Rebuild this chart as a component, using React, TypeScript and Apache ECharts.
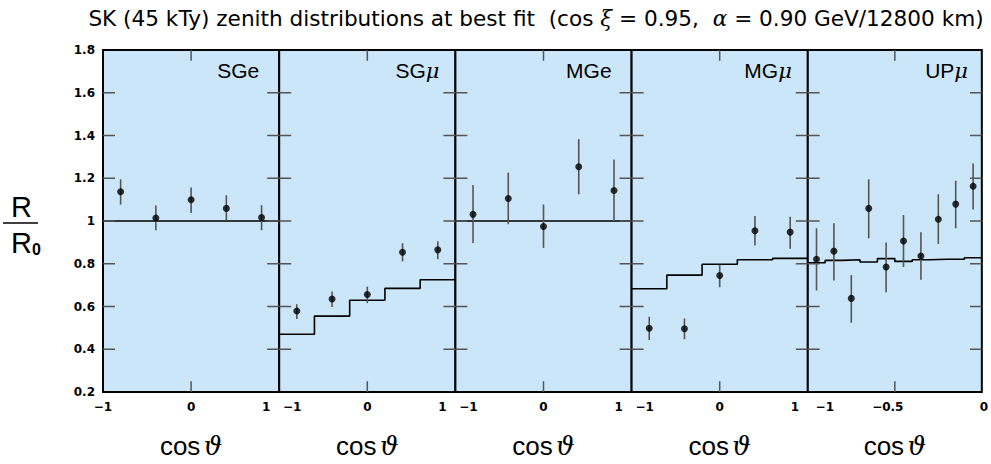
import React, { useEffect, useRef } from "react";
import * as echarts from "echarts";

// ---- data ----
const panelNames = ["SGe", "SGμ", "MGe", "MGμ", "UPμ"];
const xMins = [-1, -1, -1, -1, -1];
const xMaxs = [1, 1, 1, 1, 0];
const xIntervals = [1, 1, 1, 1, 0.5];
const xInnerTicks = [[0], [0], [0], [0], [-0.5]];

const binCenters5 = [-0.8, -0.4, 0, 0.4, 0.8];
const binEdges5 = [-1, -0.6, -0.2, 0.2, 0.6, 1];
const binCenters10 = [-0.95, -0.85, -0.75, -0.65, -0.55, -0.45, -0.35, -0.25, -0.15, -0.05];
const binEdges10 = [-1, -0.9, -0.8, -0.7, -0.6, -0.5, -0.4, -0.3, -0.2, -0.1, 0];

const sgeVal = [1.137, 1.014, 1.099, 1.059, 1.016];
const sgeLo = [1.077, 0.957, 1.037, 1.003, 0.957];
const sgeHi = [1.195, 1.072, 1.157, 1.12, 1.074];
const sgeFit = [1, 1, 1, 1, 1];

const sgmVal = [0.579, 0.635, 0.656, 0.854, 0.865];
const sgmLo = [0.542, 0.598, 0.616, 0.811, 0.821];
const sgmHi = [0.611, 0.67, 0.693, 0.896, 0.905];
const sgmFit = [0.47, 0.555, 0.629, 0.685, 0.725];

const mgeVal = [1.031, 1.105, 0.974, 1.254, 1.143];
const mgeLo = [0.897, 0.985, 0.874, 1.125, 1.0];
const mgeHi = [1.168, 1.226, 1.077, 1.383, 1.288];
const mgeFit = [1, 1, 1, 1, 1];

const mgmVal = [0.498, 0.496, 0.745, 0.954, 0.948];
const mgmLo = [0.443, 0.447, 0.69, 0.885, 0.87];
const mgmHi = [0.552, 0.544, 0.796, 1.023, 1.02];
const mgmFit = [0.683, 0.747, 0.798, 0.819, 0.825];

const upmVal = [0.821, 0.859, 0.638, 1.059, 0.785, 0.906, 0.836, 1.008, 1.079, 1.163];
const upmLo = [0.675, 0.722, 0.524, 0.919, 0.667, 0.785, 0.725, 0.893, 0.966, 1.054];
const upmHi = [0.966, 0.989, 0.747, 1.195, 0.899, 1.028, 0.947, 1.125, 1.188, 1.269];
const upmFit = [0.805, 0.816, 0.819, 0.808, 0.824, 0.811, 0.819, 0.821, 0.821, 0.828];

const yMin = 0.2;
const yMax = 1.8;
const yTickValues = [0.2, 0.4, 0.6, 0.8, 1, 1.2, 1.4, 1.6, 1.8];
const yInnerTicks = [0.4, 0.6, 0.8, 1, 1.2, 1.4, 1.6];

const panels = [
  { centers: binCenters5, edges: binEdges5, val: sgeVal, lo: sgeLo, hi: sgeHi, fit: sgeFit },
  { centers: binCenters5, edges: binEdges5, val: sgmVal, lo: sgmLo, hi: sgmHi, fit: sgmFit },
  { centers: binCenters5, edges: binEdges5, val: mgeVal, lo: mgeLo, hi: mgeHi, fit: mgeFit },
  { centers: binCenters5, edges: binEdges5, val: mgmVal, lo: mgmLo, hi: mgmHi, fit: mgmFit },
  { centers: binCenters10, edges: binEdges10, val: upmVal, lo: upmLo, hi: upmHi, fit: upmFit },
];

// ---- layout ----
const W = 991;
const H = 464;
const LEFT = 103;
const PW = 176.2;
const TOP = 50;
const PH = 347;
const BG = "#cbe6f8";
const TICK = "#555";
const FONT = "Liberation Sans, Arial, sans-serif";
const TFONT = "DejaVu Sans, sans-serif";
const YTICK_LEN = 12; // px
const XTICK_LEN = 11; // px

const fmtX = (v: number) => {
  const s = String(Math.round(v * 10) / 10);
  return s.replace("-", "−");
};

const xPad = [
  { l: [0, 0, 0, 0], r: [0, 26, 0, 0], m: [0, 0, 0, 0] },
  { l: [0, 0, 0, 26], r: [0, 26, 0, 0], m: [0, 0, 0, 0] },
  { l: [0, 0, 0, 26], r: [0, 26, 0, 0], m: [0, 0, 0, 0] },
  { l: [0, 0, 0, 26], r: [0, 26, 0, 0], m: [0, 0, 0, 0] },
  { l: [0, 0, 0, 34], r: [0, 0, 0, 4], m: [0, 14, 0, 0] },
];

export default function App() {
  const ref = useRef<HTMLDivElement>(null);
  useEffect(() => {
    if (!ref.current) return;
    const chart = echarts.init(ref.current, null, { renderer: "svg" });

    const grids: any[] = [];
    const xAxes: any[] = [];
    const yAxes: any[] = [];
    const series: any[] = [];
    const titles: any[] = [];

    const xLabelStyle = { fontSize: 12, fontFamily: TFONT, fontWeight: "bold", color: "#000" };

    panels.forEach((p, i) => {
      const left = LEFT + i * PW;
      grids.push({
        left,
        top: TOP,
        width: PW,
        height: PH,
        show: true,
        backgroundColor: BG,
        borderColor: "#000",
        borderWidth: 2,
      });
      const min = xMins[i];
      const max = xMaxs[i];
      const pad = xPad[i];
      xAxes.push({
        type: "value",
        gridIndex: i,
        position: "bottom",
        min,
        max,
        interval: xIntervals[i],
        axisLine: { show: false, onZero: false },
        splitLine: { show: false },
        axisTick: { show: false },
        axisLabel: {
          show: true,
          margin: 9,
          ...xLabelStyle,
          formatter: (v: number) => {
            const s = fmtX(v);
            if (Math.abs(v - min) < 1e-9) return `{l|${s}}`;
            if (Math.abs(v - max) < 1e-9) return `{r|${s}}`;
            return `{m|${s}}`;
          },
          rich: {
            l: { ...xLabelStyle, padding: pad.l },
            r: { ...xLabelStyle, padding: pad.r },
            m: { ...xLabelStyle, padding: pad.m },
          },
        },
        name: "{c|cos} {t|ϑ}",
        nameLocation: "middle",
        nameGap: 41,
        nameTextStyle: {
          rich: {
            c: { fontSize: 26, fontFamily: FONT, color: "#000" },
            t: { fontSize: 26, fontFamily: "DejaVu Serif, serif", fontStyle: "italic", color: "#000" },
          },
        },
      });
      yAxes.push({
        type: "value",
        gridIndex: i,
        position: "left",
        min: yMin,
        max: yMax,
        interval: 0.2,
        axisLine: { show: false, onZero: false },
        splitLine: { show: false },
        axisTick: { show: false },
        axisLabel: {
          show: i === 0,
          margin: 8,
          fontSize: 12,
          fontWeight: "bold",
          fontFamily: TFONT,
          color: "#000",
          formatter: (v: number) => {
            const r = Math.round(v * 10) / 10;
            return yTickValues.some((t) => Math.abs(t - r) < 1e-9) ? String(r) : "";
          },
        },
      });

      // tick marks as short line segments placed on the axes' scales
      const dx = (YTICK_LEN / PW) * (max - min);
      const dy = (XTICK_LEN / PH) * (yMax - yMin);
      const tickSeg = (data: number[][]) => ({
        type: "line",
        xAxisIndex: i,
        yAxisIndex: i,
        data,
        symbol: "none",
        silent: true,
        lineStyle: { color: TICK, width: 1.5 },
        z: 4,
      });
      yInnerTicks.forEach((v) => {
        series.push(tickSeg([[min, v], [min + dx, v]]));
        series.push(tickSeg([[max - dx, v], [max, v]]));
      });
      xInnerTicks[i].forEach((v) => {
        series.push(tickSeg([[v, yMin], [v, yMin + dy]]));
        series.push(tickSeg([[v, yMax - dy], [v, yMax]]));
      });

      // fit histogram
      series.push({
        type: "line",
        xAxisIndex: i,
        yAxisIndex: i,
        step: "end",
        symbol: "none",
        lineStyle: { color: "#000", width: 1.6 },
        data: p.edges.map((e, k) => [e, p.fit[Math.min(k, p.fit.length - 1)]]),
        z: 3,
      });
      // error bars
      series.push({
        type: "custom",
        xAxisIndex: i,
        yAxisIndex: i,
        data: p.centers.map((c, k) => [c, p.lo[k], p.hi[k]]),
        encode: { x: 0, y: [1, 2] },
        renderItem: (params: any, api: any) => {
          const x = api.value(0);
          const a = api.coord([x, api.value(1)]);
          const b = api.coord([x, api.value(2)]);
          return {
            type: "line",
            shape: { x1: a[0], y1: a[1], x2: b[0], y2: b[1] },
            style: { stroke: "#555", lineWidth: 1.6 },
          };
        },
        z: 4,
      });
      // data points
      series.push({
        type: "scatter",
        xAxisIndex: i,
        yAxisIndex: i,
        symbol: "circle",
        symbolSize: 7,
        itemStyle: { color: "#000" },
        data: p.centers.map((c, k) => [c, p.val[k]]),
        z: 5,
      });

      const name = panelNames[i];
      const isMu = name.endsWith("μ");
      const base = isMu ? name.slice(0, -1) : name;
      titles.push({
        text: isMu ? `{a|${base}}{m|μ}` : `{a|${base}}`,
        right: W - (left + PW - (isMu ? 11 : 15)),
        top: 55,
        textStyle: {
          fontSize: 21,
          fontWeight: "normal",
          fontFamily: FONT,
          rich: {
            a: { fontSize: 21, fontWeight: "normal", fontFamily: FONT, color: "#000" },
            m: { fontSize: 21, fontWeight: "normal", fontFamily: "DejaVu Serif, serif", fontStyle: "italic", color: "#000" },
          },
        },
      });
    });

    titles.push({
      text: "{a|SK (45 kTy) zenith distributions at best fit  (cos }{g|ξ}{a| = 0.95,  }{g|α}{a| = 0.90 GeV/12800 km)}",
      left: 531,
      textAlign: "center",
      top: 2,
      textStyle: {
        fontSize: 21.6,
        fontWeight: "normal",
        fontFamily: TFONT,
        rich: {
          a: { fontSize: 21.6, fontWeight: "normal", fontFamily: TFONT, color: "#000" },
          g: { fontSize: 21.6, fontWeight: "normal", fontFamily: "DejaVu Serif, serif", fontStyle: "italic", color: "#000" },
        },
      },
    });

    chart.setOption({
      animation: false,
      title: titles,
      grid: grids,
      xAxis: xAxes,
      yAxis: yAxes,
      series,
      graphic: [
        {
          type: "text",
          left: 11,
          top: 192,
          style: { text: "R", fontSize: 29, fontFamily: FONT, fill: "#000" },
        },
        {
          type: "line",
          shape: { x1: 3, y1: 223, x2: 38, y2: 223 },
          style: { stroke: "#000", lineWidth: 1.5 },
        },
        {
          type: "text",
          left: 11,
          top: 228,
          style: {
            text: "{r|R}{s|0}",
            rich: {
              r: { fontSize: 29, fontFamily: FONT, fill: "#000" },
              s: { fontSize: 16, fontFamily: FONT, fontWeight: "bold", fill: "#000", padding: [14, 0, 0, 0] },
            },
          },
        },
      ],
    });
    return () => chart.dispose();
  }, []);
  return (
    <div
      ref={ref}
      style={{ position: "absolute", left: 0, top: 0, width: W, height: H, background: "#fff" }}
    />
  );
}
